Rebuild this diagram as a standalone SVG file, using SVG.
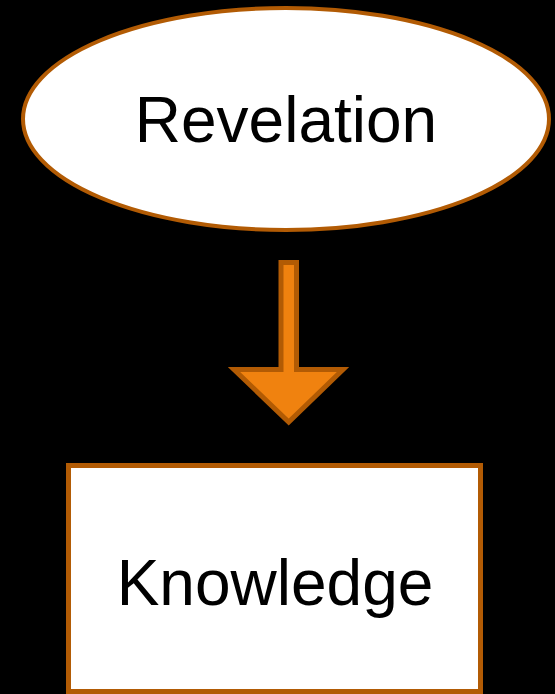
<svg xmlns="http://www.w3.org/2000/svg" width="555" height="694" viewBox="0 0 555 694">
<style>
.node{fill:#ffffff;stroke:#b25b04;}
.label{font-family:"Liberation Sans",Arial,sans-serif;font-size:64px;fill:#000000;text-anchor:middle;}
.arrow{fill:#f0820f;stroke:#b25b04;stroke-width:5;stroke-linejoin:miter;}
</style>
<rect x="0" y="0" width="555" height="694" fill="#000000"/>
<g id="revelation">
<ellipse class="node" cx="286" cy="119" rx="263" ry="111" stroke-width="4"/>
<text class="label" x="286" y="142">Revelation</text>
</g>
<g id="connectors">
<path class="arrow" d="M281,262.5 L296.5,262.5 L296.5,369.5 L343,369.5 L288.7,422 L234,369.5 L281,369.5 Z"/>
</g>
<g id="knowledge">
<rect class="node" x="68.5" y="465.5" width="412" height="226" stroke-width="5"/>
<text class="label" x="275" y="605">Knowledge</text>
</g>
</svg>
